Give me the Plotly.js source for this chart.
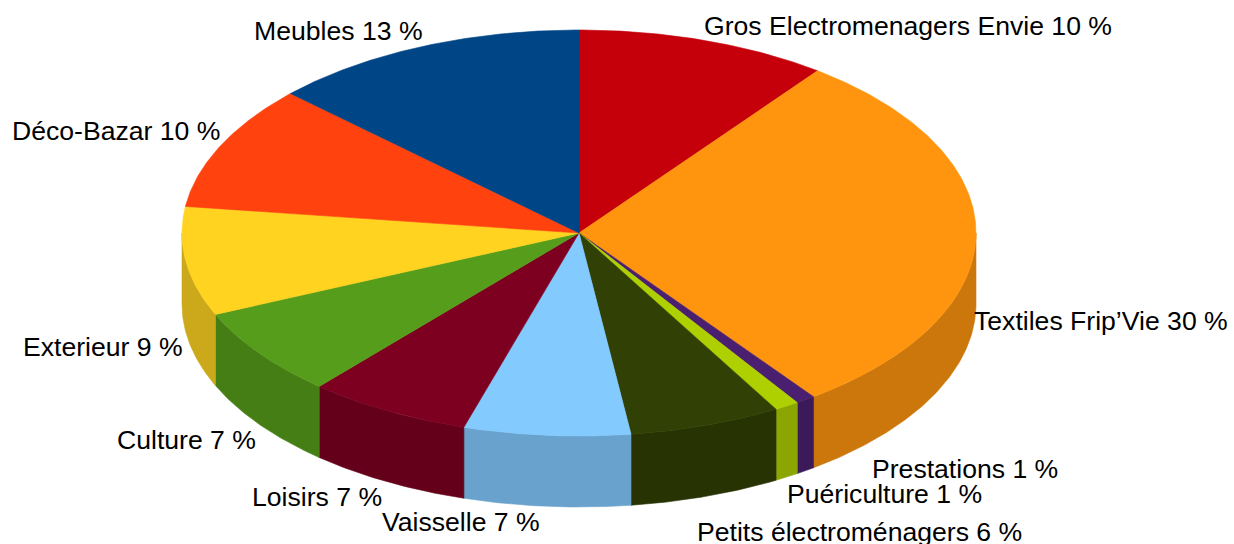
<!DOCTYPE html>
<html>
<head>
<meta charset="utf-8">
<script src="https://cdn.plot.ly/plotly-3.0.1.min.js"></script>
<style>html,body{margin:0;padding:0;background:#fff;}#chart{width:1234px;height:544px;}</style>
</head>
<body>
<div id="chart"></div>
<script>
// ---- data ----
const categories = ['Gros Electromenagers Envie', 'Textiles Frip\u2019Vie', 'Prestations', 'Puériculture',
  'Petits électroménagers', 'Vaisselle', 'Loisirs', 'Culture', 'Exterieur', 'Déco-Bazar', 'Meubles'];
const values = [10.3, 29.8, 0.8, 1.0, 6.2, 6.8, 6.7, 7.1, 8.7, 10.0, 13.0];
const colors = ['#c5000b', '#ff950e', '#4b1f6f', '#aecf00', '#314004', '#83caff',
  '#7e0021', '#579d1c', '#ffd320', '#ff420e', '#004586'];

// ---- layout of the 3D pie (pixel space) ----
const CX = 579, CY = 233, RA = 397, RB = 203, DEPTH = 71;
// label anchor points (left edge, vertical middle)
const labelPos = [[702, 25.5], [972, 320.5], [870, 468.5], [785, 493.5], [695, 531.5], [380, 522],
  [250, 497], [115, 439.5], [21, 347], [10, 130.5], [252, 31]];

function darken(hex, f) {
  const n = parseInt(hex.slice(1), 16);
  const r = Math.round(((n >> 16) & 255) * f), g = Math.round(((n >> 8) & 255) * f), b = Math.round((n & 255) * f);
  return 'rgb(' + r + ',' + g + ',' + b + ')';
}
function pt(th, dy) { return [CX + RA * Math.sin(th), CY - RB * Math.cos(th) + (dy || 0)]; }

const total = values.reduce((s, v) => s + v, 0);
const sides = [], tops = [], annotations = [];
let cum = 0;
values.forEach((v, i) => {
  const t0 = cum / total * 2 * Math.PI;
  cum += v;
  const t1 = cum / total * 2 * Math.PI;
  const step = Math.PI / 360;
  // top face
  const xs = [CX], ys = [CY];
  const n = Math.max(2, Math.ceil((t1 - t0) / step));
  for (let k = 0; k <= n; k++) { const p = pt(t0 + (t1 - t0) * k / n); xs.push(p[0]); ys.push(p[1]); }
  xs.push(CX); ys.push(CY);
  tops.push({type: 'scatter', mode: 'lines', x: xs, y: ys, fill: 'toself', fillcolor: colors[i],
    line: {color: colors[i], width: 0.6}, hoverinfo: 'skip', showlegend: false});
  // front side wall
  const s0 = Math.max(t0, Math.PI / 2), s1 = Math.min(t1, 3 * Math.PI / 2);
  if (s1 > s0) {
    const sx = [], sy = [];
    const m = Math.max(2, Math.ceil((s1 - s0) / step));
    for (let k = 0; k <= m; k++) { const p = pt(s0 + (s1 - s0) * k / m); sx.push(p[0]); sy.push(p[1]); }
    for (let k = m; k >= 0; k--) { const p = pt(s0 + (s1 - s0) * k / m, DEPTH); sx.push(p[0]); sy.push(p[1]); }
    sx.push(sx[0]); sy.push(sy[0]);
    const c = darken(colors[i], 0.8);
    sides.push({type: 'scatter', mode: 'lines', x: sx, y: sy, fill: 'toself', fillcolor: c,
      line: {color: c, width: 0.6}, hoverinfo: 'skip', showlegend: false});
  }
  annotations.push({x: labelPos[i][0], y: labelPos[i][1], xref: 'x', yref: 'y',
    text: categories[i] + ' ' + Math.round(v / total * 100) + ' %', showarrow: false,
    xanchor: 'left', yanchor: 'middle', font: {family: 'Liberation Sans, Arial, sans-serif', size: 26.6, color: '#000'}});
});

const layout = {
  width: 1234, height: 544, margin: {l: 0, r: 0, t: 0, b: 0},
  paper_bgcolor: '#fff', plot_bgcolor: '#fff', showlegend: false, hovermode: false,
  xaxis: {range: [0, 1234], visible: false, fixedrange: true},
  yaxis: {range: [544, 0], visible: false, fixedrange: true},
  annotations: annotations
};
Plotly.newPlot('chart', sides.concat(tops), layout, {staticPlot: true, displayModeBar: false});
</script>
</body>
</html>
